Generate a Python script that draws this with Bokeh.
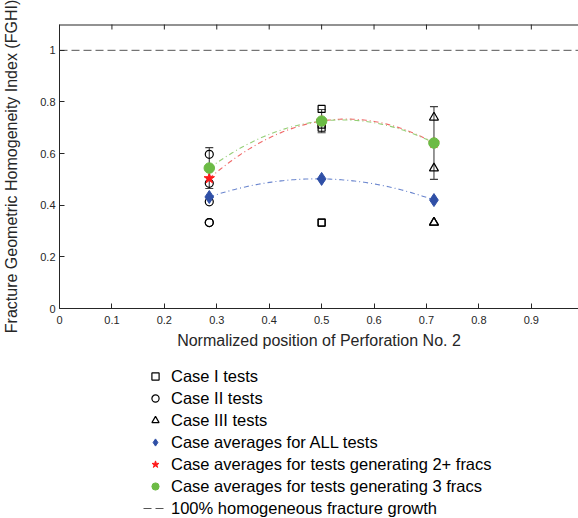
import numpy as np
from bokeh.plotting import figure
from bokeh.layouts import column
from bokeh.models import (ColumnDataSource, Whisker, TeeHead, Legend, LegendItem,
                          FixedTicker, Range1d)
from bokeh.embed import file_html
from bokeh.resources import INLINE

# ---------------- data ----------------
POSITIONS = [2 / 7, 0.5, 5 / 7]

CASE1_X = [0.5, 0.5, 0.5, 0.5, 0.5]
CASE1_Y = [0.773, 0.712, 0.700, 0.333, 0.333]
CASE2_X = [2 / 7, 2 / 7, 2 / 7, 2 / 7, 2 / 7]
CASE2_Y = [0.597, 0.485, 0.413, 0.333, 0.333]
CASE3_X = [5 / 7, 5 / 7, 5 / 7, 5 / 7]
CASE3_Y = [0.740, 0.543, 0.333, 0.333]

AVG_ALL = [0.432, 0.502, 0.420]
AVG_2PLUS = [0.504, 0.726, 0.641]
AVG_3 = [0.544, 0.726, 0.641]
ERR_3 = [0.079, 0.045, 0.141]

HOMOGENEOUS = 1.0

X_LIMITS = (0.0, 0.99)
Y_LIMITS = (0.0, 1.1)
X_TICKS = [0.0, 0.1, 0.2, 0.3, 0.4, 0.5, 0.6, 0.7, 0.8, 0.9, 1.0]
X_TICK_LABELS = ["0", "0.1", "0.2", "0.3", "0.4", "0.5", "0.6", "0.7", "0.8", "0.9", "1"]
Y_TICKS = [0.0, 0.2, 0.4, 0.6, 0.8, 1.0]
Y_TICK_LABELS = ["0", "0.2", "0.4", "0.6", "0.8", "1"]

LABELS = [
    "Case I tests",
    "Case II tests",
    "Case III tests",
    "Case averages for ALL tests",
    "Case averages for tests generating 2+ fracs",
    "Case averages for tests generating 3 fracs",
    "100% homogeneous fracture growth",
]

FONT = "Liberation Sans"
TXT = "#262626"

STYLES = {
    "sq": dict(marker="square", size=7, fill_color=None, line_color="black", line_width=1.2),
    "ci": dict(marker="circle", size=8, fill_color=None, line_color="black", line_width=1.2),
    "tr": dict(marker="triangle", size=9, fill_color=None, line_color="black", line_width=1.2),
    "dia": dict(marker="diamond", size=13, fill_color="#2F4FA6", line_color="#2F4FA6"),
    "star": dict(marker="star", size=11, fill_color="#FF1A1A", line_color="#FF1A1A"),
    "gr": dict(marker="circle", size=10.5, fill_color="#6CBB45", line_color="#6CBB45"),
}
DASH_STYLE = dict(line_color="#555555", line_width=1, line_dash="8 4")

# ---------------- main plot ----------------
p = figure(width=578, height=352, output_backend="svg", toolbar_location=None,
           x_range=Range1d(*X_LIMITS), y_range=Range1d(*Y_LIMITS),
           min_border_left=55, min_border_right=0, min_border_top=24,
           min_border_bottom=44)
p.outline_line_color = None
p.xgrid.visible = False
p.ygrid.visible = False

for ax, ticks, labels in ((p.xaxis[0], X_TICKS, X_TICK_LABELS), (p.yaxis[0], Y_TICKS, Y_TICK_LABELS)):
    ax.ticker = FixedTicker(ticks=ticks)
    ax.major_label_overrides = {t: l for t, l in zip(ticks, labels)}
    ax.major_tick_in = 5
    ax.major_tick_out = 0
    ax.minor_tick_in = 0
    ax.minor_tick_out = 0
    ax.axis_line_color = TXT
    ax.major_tick_line_color = TXT
    ax.major_label_text_font = FONT
    ax.major_label_text_font_size = "11px"
    ax.major_label_text_color = TXT
    ax.axis_label_text_font = FONT
    ax.axis_label_text_font_size = "16px"
    ax.axis_label_text_font_style = "normal"
    ax.axis_label_text_color = TXT

p.xaxis[0].axis_label = "Normalized position of Perforation No. 2"
p.xaxis[0].major_label_standoff = 7
p.xaxis[0].axis_label_standoff = 5
p.yaxis[0].axis_label = "Fracture Geometric Homogeneity Index (FGHI)"
p.yaxis[0].major_label_standoff = 4
p.yaxis[0].axis_label_standoff = 17

# top border with inward ticks
p.line(x=list(X_LIMITS), y=[Y_LIMITS[1], Y_LIMITS[1]], line_color=TXT, line_width=2)
p.scatter(X_TICKS, [Y_LIMITS[1]] * len(X_TICKS), marker="dash", angle=np.pi / 2,
          size=10, line_color=TXT, line_width=1)

# 100% homogeneous line
p.line(x=list(X_LIMITS), y=[HOMOGENEOUS, HOMOGENEOUS], **DASH_STYLE)

# quadratic fits through the averages
xs = np.linspace(POSITIONS[0], POSITIONS[-1], 120)
for vals, col in ((AVG_ALL, "#6B86CE"), (AVG_2PLUS, "#F06A6A"), (AVG_3, "#96CF78")):
    c = np.polyfit(POSITIONS, vals, 2)
    p.line(x=xs, y=np.polyval(c, xs), line_color=col, line_width=1.1, line_dash="5 3 1 3")

# error bars
err_src = ColumnDataSource(dict(base=POSITIONS,
                                lower=[a - e for a, e in zip(AVG_3, ERR_3)],
                                upper=[a + e for a, e in zip(AVG_3, ERR_3)]))
p.add_layout(Whisker(source=err_src, base="base", lower="lower", upper="upper",
                     dimension="height", line_color="#404040", line_width=1.1,
                     upper_head=TeeHead(size=8, line_color="#404040", line_width=1.1),
                     lower_head=TeeHead(size=8, line_color="#404040", line_width=1.1),
                     level="underlay"))

SERIES = [
    ("sq", CASE1_X, CASE1_Y),
    ("ci", CASE2_X, CASE2_Y),
    ("tr", CASE3_X, CASE3_Y),
    ("dia", POSITIONS, AVG_ALL),
    ("star", POSITIONS, AVG_2PLUS),
    ("gr", POSITIONS, AVG_3),
]
for key, x, y in SERIES:
    p.scatter(x, y, **STYLES[key])

# ---------------- legend (below the axes) ----------------
q = figure(width=578, height=166, output_backend="svg", toolbar_location=None,
           x_axis_type=None, y_axis_type=None, x_range=Range1d(*X_LIMITS),
           y_range=Range1d(*Y_LIMITS), min_border=0)
q.outline_line_color = None
q.xgrid.visible = False
q.ygrid.visible = False
leg_renderers = []
for key, x, y in SERIES:
    r = q.scatter(x, y, **STYLES[key])
    r.visible = False
    leg_renderers.append(r)
rd = q.line(x=list(X_LIMITS), y=[HOMOGENEOUS, HOMOGENEOUS], **DASH_STYLE)
rd.visible = False
leg_renderers.append(rd)

legend = Legend(items=[LegendItem(label=l, renderers=[r]) for l, r in zip(LABELS, leg_renderers)],
                location=(84, 0), orientation="vertical", padding=0, margin=0,
                spacing=2, glyph_height=18, glyph_width=24, label_height=20,
                label_standoff=4, label_text_font=FONT, label_text_font_size="16.5px",
                label_text_color="black", background_fill_alpha=0, border_line_color=None,
                inactive_fill_alpha=0)
q.add_layout(legend)

layout = column(p, q, spacing=0)
open("out.html", "w").write(file_html(layout, INLINE))
